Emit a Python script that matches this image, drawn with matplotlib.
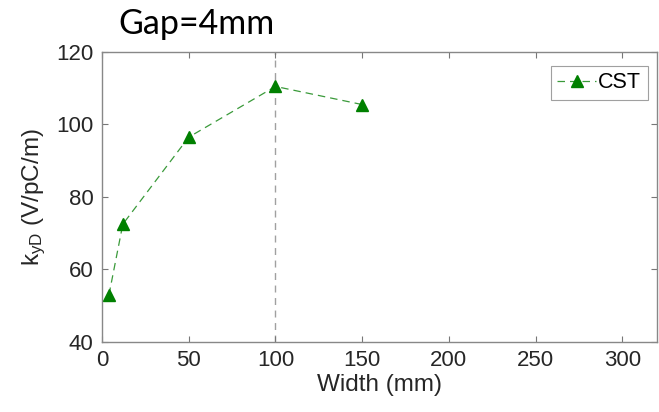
import matplotlib
matplotlib.use("Agg")
import matplotlib.pyplot as plt

# CST simulation: kick factor vs width
width_mm = [4, 12, 50, 100, 150]
kyd = [53, 72.5, 96.5, 110.5, 105.5]
xticks = [0, 50, 100, 150, 200, 250, 300]
yticks = [40, 60, 80, 100, 120]

plt.rcParams['font.family'] = ['Liberation Sans', 'DejaVu Sans']
plt.rcParams['mathtext.fontset'] = 'custom'
plt.rcParams['mathtext.rm'] = 'Liberation Sans'
plt.rcParams['mathtext.it'] = 'Liberation Sans'

fig = plt.figure(figsize=(6.59, 4.12), dpi=100)
ax = fig.add_axes([0.1548, 0.1699, 0.8422, 0.7039])

ax.axvline(100, color='#a0a0a0', ls=(0, (5, 4)), lw=1.0, zorder=1)
ax.plot(width_mm, kyd, color='#3a9a3a', ls=(0, (6, 4)), lw=0.9,
        marker='^', ms=8, mfc='#008000', mec='#008000', label='CST', zorder=3)

ax.set_xlim(0, 320)
ax.set_ylim(40, 120)
ax.set_xticks(xticks)
ax.set_yticks(yticks)
ax.tick_params(direction='in', top=True, right=True, length=4, width=0.8,
               labelsize=16, colors='#777777', labelcolor='#262626', pad=6)
for s in ax.spines.values():
    s.set_color('#888888')
    s.set_linewidth(1.0)

ax.set_xlabel('Width (mm)', fontsize=17.5, color='#262626', labelpad=2)
ax.set_ylabel(r'k$_{\mathrm{yD}}$ (V/pC/m)', fontsize=17.5, color='#262626', labelpad=6)

leg = ax.legend(loc='upper right', fontsize=15.5, frameon=True, fancybox=False,
                handlelength=1.8, handletextpad=0.1, borderpad=0.3,
                borderaxespad=0.3, bbox_to_anchor=(0.995, 0.975))
leg.get_frame().set_edgecolor('#888888')
leg.get_frame().set_linewidth(0.8)

fig.text(0.179, 0.917, 'Gap=4mm', fontsize=24.5, family=['Lato', 'DejaVu Sans'],
         va='baseline', ha='left', color='black')

fig.savefig('out.png', dpi=100)
